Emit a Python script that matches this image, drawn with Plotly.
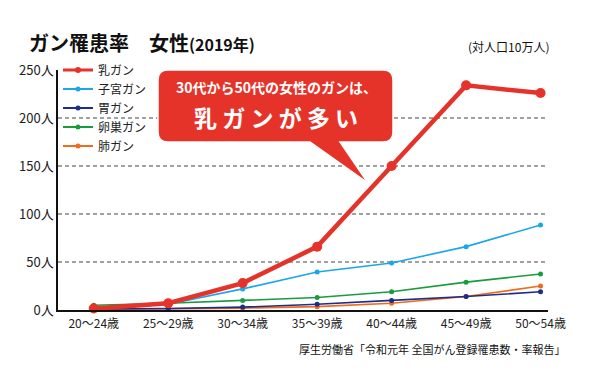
import plotly.graph_objects as go

categories = ["20〜24歳", "25〜29歳", "30〜34歳", "35〜39歳", "40〜44歳", "45〜49歳", "50〜54歳"]
breast = [1.5, 7, 28, 66, 150, 234, 226]
uterus = [1, 6, 22, 39.5, 49, 66, 88.5]
stomach = [1, 1.5, 3, 6, 10, 14, 19]
ovary = [5, 7, 10, 13, 19, 29, 37.5]
lung = [0.5, 1, 2, 3.5, 7, 14, 25]
y_ticks = [0, 50, 100, 150, 200, 250]
y_tick_labels = [f"{v}人" for v in y_ticks]

FONT = "Noto Sans CJK JP"
xs = list(range(len(categories)))

fig = go.Figure()
series = [
    ("乳ガン", breast, "#e6332a", 4.5, 10, 3),
    ("子宮ガン", uterus, "#1ba6ea", 1.6, 5, 2),
    ("胃ガン", stomach, "#1d2d8a", 1.6, 5, 2),
    ("卵巣ガン", ovary, "#1a9c3e", 1.6, 5, 2),
    ("肺ガン", lung, "#ee6c1b", 1.6, 5, 2),
]
draw_order = [4, 2, 3, 1, 0]
for i in draw_order:
    name, vals, col, w, ms, lw = series[i]
    fig.add_trace(go.Scatter(
        x=xs, y=vals, name=name, mode="lines+markers",
        line=dict(color=col, width=w),
        marker=dict(color=col, size=ms),
        showlegend=False, cliponaxis=False,
    ))
# legend entries (legend-only styling)
for i, (name, vals, col, w, ms, lw) in enumerate(series):
    fig.add_trace(go.Scatter(
        x=[None], y=[None], name=name, mode="lines+markers",
        line=dict(color=col, width=lw),
        marker=dict(color=col, size=6 if i == 0 else 5),
        legendrank=i + 1,
    ))

fig.update_layout(
    width=600, height=377,
    margin=dict(l=58, r=52, t=70, b=67),
    paper_bgcolor="white", plot_bgcolor="white",
    font=dict(family=FONT, color="#222", size=12),
    showlegend=True,
    legend=dict(x=0.0, y=1.06, xanchor="left", yanchor="top",
                bgcolor="rgba(0,0,0,0)", font=dict(size=12, family=FONT, color="#222"),
                itemwidth=30, tracegroupgap=0),
    xaxis=dict(
        tickmode="array", tickvals=xs, ticktext=categories,
        range=[-0.48, 6.1], showgrid=False, zeroline=False,
        showline=True, linecolor="#111", linewidth=1.5,
        ticks="outside", ticklen=2, tickcolor="rgba(0,0,0,0)",
        tickfont=dict(size=12, family=FONT, color="#222"),
    ),
    yaxis=dict(
        tickmode="array", tickvals=y_ticks, ticktext=y_tick_labels,
        range=[0, 250], showgrid=False, zeroline=False,
        showline=True, linecolor="#111", linewidth=1.5,
        ticks="", tickfont=dict(size=13, family=FONT, color="#222"),
    ),
)

# dashed gridlines at 50..200
for v in y_ticks[1:-1]:
    fig.add_shape(type="line", xref="paper", yref="y", x0=0, x1=1, y0=v, y1=v,
                  line=dict(color="#444", width=1.2, dash="4px,3px"), layer="below")

# callout bubble (paper coords)
def px(x):
    return (x - 58) / 490

def py(y):
    return (310 - y) / 240

x0, x1, y0, y1, r = 158, 393, 70, 142, 10
tail = [(310, 142), (368, 183), (340, 142)]
path = (
    f"M {px(x0 + r)},{py(y0)} L {px(x1 - r)},{py(y0)} "
    f"Q {px(x1)},{py(y0)} {px(x1)},{py(y0 + r)} "
    f"L {px(x1)},{py(y1 - r)} Q {px(x1)},{py(y1)} {px(x1 - r)},{py(y1)} "
    f"L {px(tail[2][0])},{py(tail[2][1])} L {px(tail[1][0])},{py(tail[1][1])} "
    f"L {px(tail[0][0])},{py(tail[0][1])} "
    f"L {px(x0 + r)},{py(y1)} Q {px(x0)},{py(y1)} {px(x0)},{py(y1 - r)} "
    f"L {px(x0)},{py(y0 + r)} Q {px(x0)},{py(y0)} {px(x0 + r)},{py(y0)} Z"
)
fig.add_shape(type="path", xref="paper", yref="paper", path=path,
              fillcolor="#e6332a", line=dict(color="white", width=1.5), layer="above")

fig.add_annotation(xref="paper", yref="paper", x=px(276), y=py(87), xanchor="center", yanchor="middle",
                   text="<b>30代から50代の女性のガンは、</b>",
                   showarrow=False, font=dict(family=FONT, size=14, color="white"))
fig.add_annotation(xref="paper", yref="paper", x=px(276), y=py(117), xanchor="center", yanchor="middle",
                   text="<b>乳 ガ ン が 多 い</b>",
                   showarrow=False, font=dict(family=FONT, size=23, color="white"))

# title
fig.add_annotation(xref="paper", yref="paper", x=px(27), y=py(43), xanchor="left", yanchor="middle",
                   text="<b>ガン罹患率　女性</b><span style='font-size:16px'><b>(2019年)</b></span>",
                   showarrow=False, font=dict(family=FONT, size=20, color="#111"))
fig.add_annotation(xref="paper", yref="paper", x=px(551), y=py(47), xanchor="right", yanchor="middle",
                   text="(対人口10万人)", showarrow=False, font=dict(family=FONT, size=12, color="#111"))
fig.add_annotation(xref="paper", yref="paper", x=px(567), y=py(349), xanchor="right", yanchor="middle",
                   text="厚生労働省「令和元年 全国がん登録罹患数・率報告」", showarrow=False,
                   font=dict(family=FONT, size=11, color="#111"))

fig.write_html("out.html", config={"displayModeBar": False},
               post_script="document.body.style.margin='0';")
